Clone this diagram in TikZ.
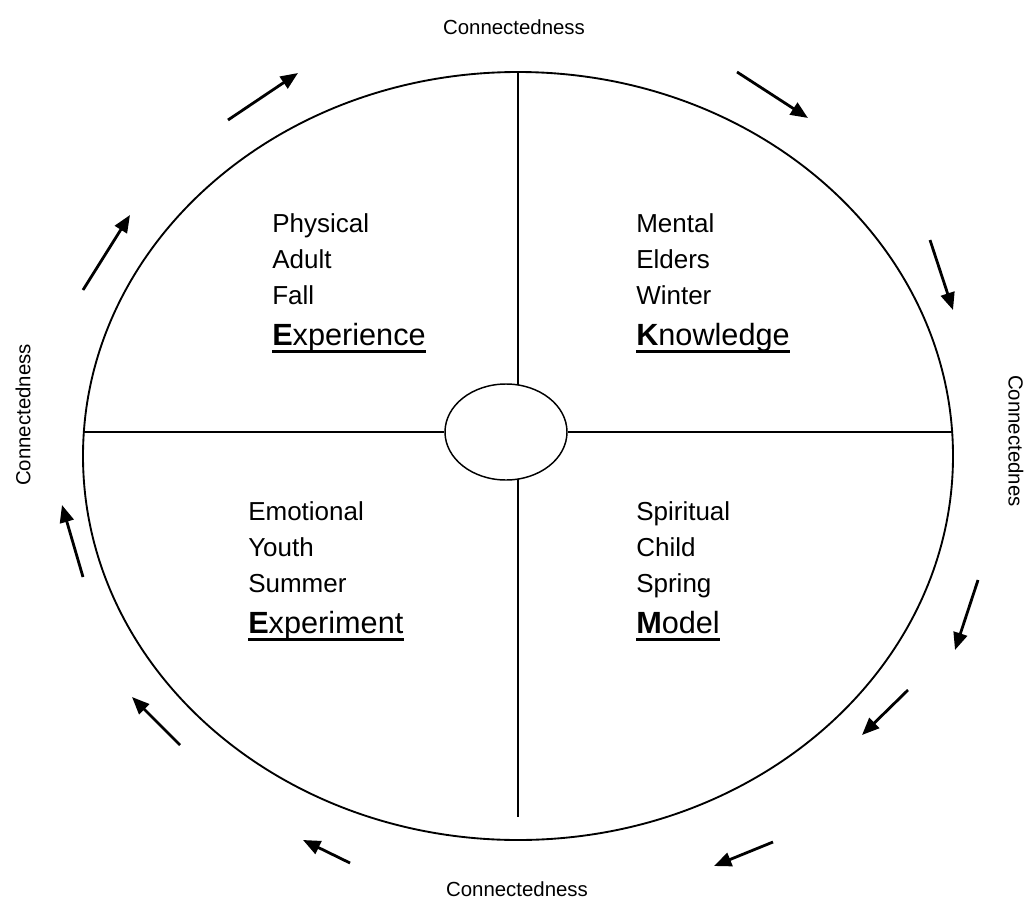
\documentclass[tikz,border=0pt]{standalone}
\usepackage{fontspec}
\setmainfont{Liberation Sans}
\usetikzlibrary{arrows.meta,shapes.geometric}
\begin{document}
\begin{tikzpicture}[x=0.75pt,y=-0.75pt,
  rim/.style={line width=1.4pt},
  divider/.style={line width=1.1pt},
  flow/.style={line width=2.1pt,-{Triangle[length=13pt,width=10.5pt]}},
  word/.style={anchor=base west,inner sep=0pt,font=\fontsize{19.5}{22}\selectfont},
  keyword/.style={anchor=base west,inner sep=0pt,font=\fontsize{23}{26}\selectfont},
  rimlabel/.style={inner sep=0pt,font=\fontsize{15.3}{18}\selectfont},
  keyline/.style={line width=2.3pt}]
\useasboundingbox (0,0) rectangle (1027,906);

% outer circle of the wheel and the centre
\draw[rim] (518,456) ellipse [x radius=435, y radius=384];
\node[draw,ellipse,line width=1.1pt,inner sep=0pt,minimum width=91.5pt,minimum height=72pt] (hub) at (506,432) {};

% quadrant dividers
\coordinate (west) at (83.8,432);
\coordinate (east) at (952.2,432);
\coordinate (top) at (518,72);
\coordinate (bottom) at (518,817);
\coordinate (hubtop) at (518,385);
\coordinate (hubbottom) at (518,479);
\draw[divider] (west) -- (hub.west);
\draw[divider] (hub.east) -- (east);
\draw[divider] (top) -- (hubtop);
\draw[divider] (hubbottom) -- (bottom);

% rim labels
\node[rimlabel] (ctop) at (514,27) {Connectedness};
\node[rimlabel] (cbottom) at (517,889) {Connectedness};
\node[rimlabel,rotate=90] (cleft) at (23,415) {Connectedness};
\node[rimlabel,rotate=-90] (cright) at (1016,441) {Connectednes};

% upper left quadrant
\node[word] (q1a) at (272,232) {Physical};
\node[word] (q1b) at (272,268) {Adult};
\node[word] (q1c) at (272,304) {Fall};
\node[keyword] (q1d) at (272,345) {\textbf{E}xperience};
\draw[keyline] ([yshift=-5pt]q1d.base west) -- ([yshift=-5pt]q1d.base east);

% upper right quadrant
\node[word] (q2a) at (636,232) {Mental};
\node[word] (q2b) at (636,268) {Elders};
\node[word] (q2c) at (636,304) {Winter};
\node[keyword] (q2d) at (636,345) {\textbf{K}nowledge};
\draw[keyline] ([yshift=-5pt]q2d.base west) -- ([yshift=-5pt]q2d.base east);

% lower left quadrant
\node[word] (q3a) at (248,520) {Emotional};
\node[word] (q3b) at (248,556) {Youth};
\node[word] (q3c) at (248,592) {Summer};
\node[keyword] (q3d) at (248,633) {\textbf{E}xperiment};
\draw[keyline] ([yshift=-5pt]q3d.base west) -- ([yshift=-5pt]q3d.base east);

% lower right quadrant
\node[word] (q4a) at (636,520) {Spiritual};
\node[word] (q4b) at (636,556) {Child};
\node[word] (q4c) at (636,592) {Spring};
\node[keyword] (q4d) at (636,633) {\textbf{M}odel};
\draw[keyline] ([yshift=-5pt]q4d.base west) -- ([yshift=-5pt]q4d.base east);

% clockwise flow around the wheel
\draw[flow] (228,120) -- (298,73);
\draw[flow] (737,72) -- (808,118);
\draw[flow] (930,240) -- (953,310);
\draw[flow] (978,580) -- (955,650);
\draw[flow] (908,690) -- (862,735);
\draw[flow] (773,842) -- (714,866);
\draw[flow] (350,863) -- (303,840);
\draw[flow] (180,745) -- (132,697);
\draw[flow] (83,577) -- (62,505);
\draw[flow] (83,290) -- (130,215);
\end{tikzpicture}
\end{document}
